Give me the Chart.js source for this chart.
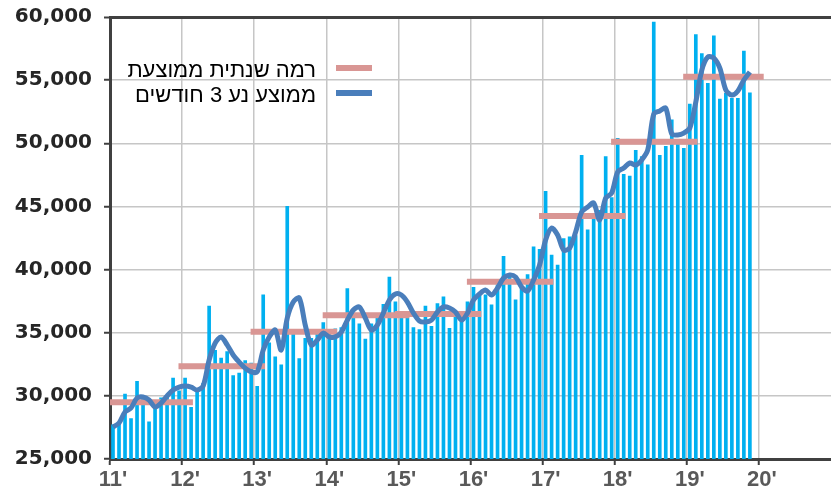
<!DOCTYPE html>
<html>
<head>
<meta charset="utf-8">
<script src="https://cdn.jsdelivr.net/npm/chart.js@4.4.1/dist/chart.umd.min.js"></script>
<style>
  html, body { margin: 0; padding: 0; background: #fff; }
  #wrap { width: 831px; height: 492px; }
</style>
</head>
<body>
<div id="wrap"><canvas id="chart" width="831" height="492"></canvas></div>
<script>
// one tick per year, first month = Jan 2011
const tickLabels = ["11'", "12'", "13'", "14'", "15'", "16'", "17'", "18'", "19'", "20'"];

// monthly values, Jan 2011 - Nov 2019
const monthly = [
  27700, 27900, 30150, 28200, 31150, 29800, 27950, 29300, 29850, 29900, 31400, 30400,
  31400, 29100, 30400, 31000, 37100, 33600, 33000, 33500, 31600, 31800, 32800, 32600,
  30750, 38000, 34200, 33100, 32450, 45000, 35000, 32950, 34550, 34550, 34900, 35800,
  35200, 35300, 35400, 38500, 36300, 35700, 34500, 35700, 36200, 37250, 39400, 37450,
  36200, 36300, 35400, 35250, 37100, 35500, 37300, 37850, 35350, 36300, 35900, 37450,
  38600, 38000, 38000, 37200, 38800, 41050, 39400, 37600, 38500, 39600, 41800, 41600,
  46200, 41150, 40350, 42450, 42600, 42700, 49050, 43150, 44100, 44700, 48950, 45700,
  50400, 47550, 47400, 49450, 48950, 48300, 59600, 49050, 49750, 51850, 50000, 49600,
  53100, 58600, 57100, 54750, 58500, 53500, 53950, 53550, 53550, 57300, 54000
];

// 3 month moving average
const movingAvg = [
  27530, 27850, 28720, 29040, 29830, 29910, 29670, 29120, 29430, 29990, 30460, 30700,
  30780, 30700, 30460, 30780, 32840, 34180, 34660, 34030, 33240, 32680, 32200, 31900,
  31900, 33630, 34660, 35210, 33630, 36160, 37430, 37750, 35610, 34030, 34420, 34970,
  34660, 34660, 35050, 36000, 36800, 37040, 36160, 35210, 35610, 36560, 37590, 38070,
  37990, 37430, 36560, 35930, 35850, 36000, 36640, 37040, 36960, 36640, 36000, 36560,
  37590, 38070, 38380, 37990, 38540, 39330, 39570, 39410, 38620, 38300, 39170, 40360,
  42340, 43290, 42740, 41550, 41700, 42980, 44560, 44950, 45270, 43920, 45660, 46060,
  47730, 48040, 48440, 48280, 48680, 49470, 52320, 52560, 52790, 50730, 50660, 50810,
  51210, 53270, 55800, 56830, 56750, 55960, 54220, 53820, 54140, 55010, 55640
];

// yearly average level 2011 - 2019
const annualAvg = [29500, 32350, 35080, 36380, 36480, 39040, 44240, 50130, 55270];

const legendLabels = ["רמה שנתית ממוצעת", "ממוצע נע 3 חודשים"];

const barPoints = monthly.map((v, i) => ({ x: i + 0.5, y: v }));
const avgPoints = movingAvg.map((v, i) => ({ x: i + 0.5, y: v }));

// each yearly level is a short segment, broken by a null point
const levelPoints = [];
annualAvg.forEach((v, k) => {
  const months = Math.min(12, monthly.length - k * 12);
  const end = k * 12 + months + 1.8;
  levelPoints.push({ x: k * 12 - 0.6, y: v });
  levelPoints.push({ x: end, y: v });
  levelPoints.push({ x: end, y: null });
});

const dark = "#404040";
const gridGrey = "#c6c6c6";

const rtlLegend = {
  id: "rtlLegend",
  afterDatasetsDraw(chart) {
    const ctx = chart.ctx;
    const items = [
      { text: legendLabels[0], color: "#d99694", y: 68 },
      { text: legendLabels[1], color: "#4a7ebb", y: 93 }
    ];
    ctx.save();
    ctx.font = '22px "Liberation Sans", Arial, sans-serif';
    ctx.direction = "rtl";
    ctx.textAlign = "right";
    ctx.textBaseline = "middle";
    items.forEach(item => {
      ctx.strokeStyle = item.color;
      ctx.lineWidth = 6;
      ctx.beginPath();
      ctx.moveTo(336, item.y);
      ctx.lineTo(372, item.y);
      ctx.stroke();
      ctx.fillStyle = "#000";
      ctx.fillText(item.text, 316, item.y + 3);
    });
    ctx.restore();
  }
};

new Chart(document.getElementById("chart"), {
  type: "bar",
  data: {
    datasets: [
      {
        type: "line",
        label: legendLabels[1],
        data: avgPoints,
        borderColor: "#4a7ebb",
        borderWidth: 5,
        pointRadius: 0,
        tension: 0.3,
        order: 1
      },
      {
        type: "line",
        label: legendLabels[0],
        data: levelPoints,
        borderColor: "#d99694",
        borderWidth: 6,
        pointRadius: 0,
        spanGaps: false,
        tension: 0,
        order: 2
      },
      {
        label: "monthly",
        data: barPoints,
        backgroundColor: "#00b0f0",
        barThickness: 3,
        order: 3
      }
    ]
  },
  options: {
    responsive: false,
    animation: false,
    layout: { autoPadding: false, padding: { top: 17, left: 0, right: 0, bottom: 0 } },
    plugins: {
      legend: { display: false },
      tooltip: { enabled: false }
    },
    scales: {
      x: {
        type: "linear",
        min: 0,
        max: 120,
        offset: false,
        afterFit: scale => {
          scale.height = 33;
          scale.paddingLeft = 0;
          scale.paddingRight = 0;
        },
        ticks: {
          stepSize: 12,
          autoSkip: false,
          maxRotation: 0,
          padding: 2,
          labelOffset: 3,
          color: "#595959",
          font: { family: '"Liberation Sans", Arial, sans-serif', size: 22, weight: "bold" },
          callback: v => tickLabels[v / 12] || ""
        },
        grid: {
          offset: false,
          color: c => (c.tick && c.tick.value === 120 ? "rgba(0,0,0,0)" : gridGrey),
          lineWidth: 1.5,
          tickColor: c => (c.tick && c.tick.value === 120 ? "rgba(0,0,0,0)" : dark),
          tickLength: 6,
          tickWidth: 2
        },
        border: { color: dark, width: 3 }
      },
      y: {
        min: 25000,
        max: 60000,
        afterFit: scale => {
          scale.width = 110;
          scale.paddingTop = 0;
          scale.paddingBottom = 0;
        },
        ticks: {
          stepSize: 5000,
          padding: 12,
          color: "#262626",
          font: { family: '"DejaVu Sans", sans-serif', size: 20, weight: "bold" },
          callback: v => v.toLocaleString("en-US")
        },
        grid: {
          color: c => (c.tick && c.tick.value === 60000 ? dark : gridGrey),
          lineWidth: c => (c.tick && c.tick.value === 60000 ? 3 : 1.5),
          tickColor: dark,
          tickLength: 6,
          tickWidth: 2
        },
        border: { color: dark, width: 3 }
      }
    }
  },
  plugins: [rtlLegend]
});
</script>
</body>
</html>
